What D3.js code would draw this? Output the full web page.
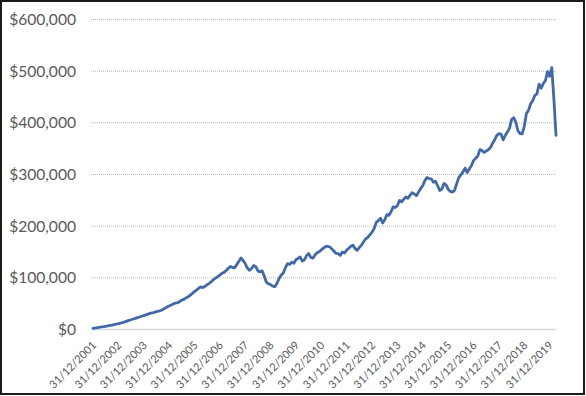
<!DOCTYPE html>
<html>
<head>
<meta charset="utf-8">
<script src="https://cdn.jsdelivr.net/npm/d3@7"></script>
<style>
  html, body { margin: 0; padding: 0; background: #fff; }
  svg { display: block; }
  svg text { font-family: Lato, "Open Sans", sans-serif; }
</style>
</head>
<body>
<script>
// Portfolio value at each month end, in $ thousands (31/12/2001 .. 31/03/2020)
const valuesK = [
  1.0,
  1.8, 2.5, 3.3, 4.0, 4.6, 5.3, 6.0, 6.8, 7.5, 8.4, 9.2, 10.2,                 // 2002
  11.2, 12.5, 13.8, 15.2, 16.6, 17.9, 19.3, 20.6, 22.0, 23.2, 24.7, 26.0,      // 2003
  27.4, 28.9, 30.1, 31.0, 32.2, 33.5, 34.4, 35.9, 37.8, 40.0, 42.4, 44.6,      // 2004
  46.5, 48.4, 50.2, 50.9, 53.3, 55.9, 57.4, 60.2, 62.3, 65.6, 68.9, 72.6,      // 2005
  75.4, 78.9, 81.5, 80.2, 82.6, 85.8, 88.4, 91.9, 95.6, 98.7, 101.4, 104.2,    // 2006
  107.9, 109.6, 113.2, 117.5, 121.0, 119.2, 118.4, 124.6, 131.0, 137.5, 132.4, 126.8, // 2007
  117.9, 113.6, 117.2, 122.8, 120.5, 112.4, 110.6, 112.5, 102.3, 90.6, 87.4, 86.1,    // 2008
  82.8, 82.0, 88.3, 97.6, 104.1, 108.2, 118.5, 126.4, 125.0, 129.3, 127.2, 134.1,     // 2009
  136.8, 139.2, 131.5, 134.0, 142.0, 146.3, 138.5, 136.9, 143.2, 147.4, 149.5, 153.2, // 2010
  156.4, 159.3, 160.2, 158.7, 155.0, 150.6, 146.2, 146.0, 142.5, 149.2, 147.0, 152.8, // 2011
  156.2, 160.4, 162.1, 155.3, 152.4, 158.0, 162.3, 168.9, 174.6, 177.2, 182.5, 187.4, // 2012
  194.6, 206.3, 210.0, 214.2, 205.1, 211.6, 221.3, 219.8, 227.4, 236.5, 235.2, 238.9, // 2013
  249.0, 246.3, 251.2, 255.4, 253.0, 259.1, 264.0, 261.2, 258.0, 265.3, 272.1, 277.8, // 2014
  287.5, 293.4, 291.0, 290.6, 284.2, 286.0, 277.5, 268.1, 270.9, 281.6, 279.0, 270.4, // 2015
  266.2, 265.0, 268.3, 280.7, 293.0, 298.4, 304.0, 311.2, 303.0, 309.5, 316.2, 326.0, // 2016
  330.5, 334.7, 347.2, 345.4, 341.9, 344.5, 346.8, 351.2, 359.4, 366.3, 374.6, 378.2, // 2017
  377.4, 366.0, 374.5, 381.1, 388.4, 405.3, 409.0, 400.2, 383.6, 378.1, 377.5, 392.0, // 2018
  417.0, 423.2, 436.0, 442.0, 452.0, 455.0, 474.0, 466.0, 475.0, 481.0, 498.0, 489.0, // 2019
  506.0, 445.0, 375.0                                                                  // 2020
];

const tickLabels = [
  '31/12/2001', '31/12/2002', '31/12/2003', '31/12/2004', '31/12/2005',
  '31/12/2006', '31/12/2007', '31/12/2008', '31/12/2009', '31/12/2010',
  '31/12/2011', '31/12/2012', '31/12/2013', '31/12/2014', '31/12/2015',
  '31/12/2016', '31/12/2017', '31/12/2018', '31/12/2019'
];

const yTicks = [0, 100000, 200000, 300000, 400000, 500000, 600000];

const width = 586;
const height = 396;
const plot = { left: 93, right: 556, top: 19, bottom: 329 };

// month-end categories, starting at 31/12/2001
const fmt = d3.timeFormat('%d/%m/%Y');
const categories = valuesK.map((v, i) => fmt(new Date(2001, 12 + i, 0)));

const svg = d3.select('body')
  .append('svg')
  .attr('width', width)
  .attr('height', height);

svg.append('rect')
  .attr('x', 0).attr('y', 0)
  .attr('width', width).attr('height', height)
  .attr('fill', '#fff');

// chart border
svg.append('rect')
  .attr('x', 1).attr('y', 1)
  .attr('width', 583).attr('height', 393)
  .attr('fill', 'none')
  .attr('stroke', '#1b1b1b')
  .attr('stroke-width', 2);

const x = d3.scalePoint()
  .domain(categories)
  .range([plot.left, plot.right]);

const y = d3.scaleLinear()
  .domain([0, 600000])
  .range([plot.bottom, plot.top]);

// y axis + dotted gridlines
const yAxis = d3.axisLeft(y)
  .tickValues(yTicks)
  .tickFormat(d => '$' + d3.format(',')(d))
  .tickSize(-(plot.right - plot.left + 2))
  .tickPadding(15);

const yg = svg.append('g')
  .attr('transform', `translate(${plot.left - 2},0)`)
  .call(yAxis);

yg.select('.domain').remove();
yg.selectAll('.tick line')
  .attr('stroke', '#b8b8b8')
  .attr('stroke-dasharray', '1,1')
  .filter(d => d === 0).remove();
yg.selectAll('.tick text')
  .attr('fill', '#595959')
  .style('font-family', 'Lato, "Open Sans", sans-serif')
  .style('font-size', '15.6px')
  .attr('dy', '0.36em');

// x axis
const xAxis = d3.axisBottom(x)
  .tickValues(tickLabels)
  .tickSize(0)
  .tickSizeOuter(0);

const xg = svg.append('g')
  .attr('transform', `translate(0,${plot.bottom})`)
  .call(xAxis);

xg.select('.domain')
  .attr('stroke', '#d9d9d9')
  .attr('stroke-width', 1.5);
xg.selectAll('.tick text')
  .attr('fill', '#595959')
  .style('font-family', 'Lato, "Open Sans", sans-serif')
  .style('font-size', '11px')
  .attr('x', 0).attr('y', 0).attr('dy', 0)
  .attr('text-anchor', 'end')
  .attr('transform', 'translate(3.5,17) rotate(-45)');

// line
const line = d3.line()
  .x((d, i) => x(categories[i]))
  .y(d => y(d * 1000));

svg.append('path')
  .datum(valuesK)
  .attr('fill', 'none')
  .attr('stroke', '#4169aa')
  .attr('stroke-width', 2.8)
  .attr('stroke-linejoin', 'round')
  .attr('stroke-linecap', 'round')
  .attr('d', line);
</script>
</body>
</html>
